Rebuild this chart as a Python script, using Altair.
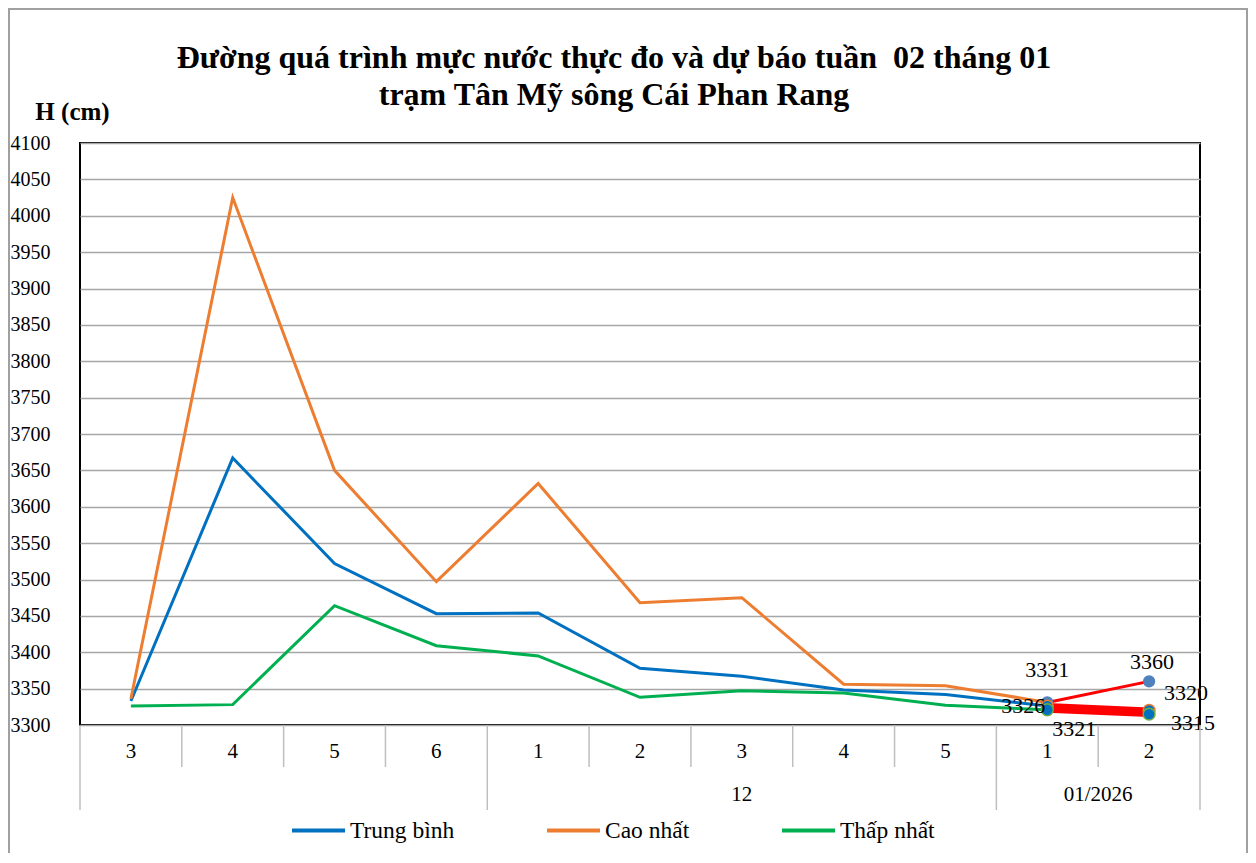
import altair as alt
import pandas as pd

# ---------------- data ----------------
weeks = ["3", "4", "5", "6", "1", "2", "3", "4", "5", "1", "2"]
months = ["", "12", "01/2026"]
month_start = [0, 4, 9]
month_end = [4, 9, 11]

series_names = ["Trung bình", "Cao nhất", "Thấp nhất"]
series_colors = ["#0070C0", "#ED7D31", "#00B050"]
mean_vals = [3333, 3667, 3522, 3453, 3454, 3378, 3367, 3348, 3342, 3326]
max_vals = [3336, 4025, 3650, 3497, 3632, 3468, 3475, 3356, 3354, 3331]
min_vals = [3326, 3328, 3464, 3409, 3395, 3338, 3347, 3344, 3327, 3321]

# forecast (from week 1 to week 2 of 01/2026)
fc_max = [3331, 3360]
fc_mean = [3326, 3320]
fc_min = [3321, 3315]

title_lines = ["Đường quá trình mực nước thực đo và dự báo tuần \u00a002 tháng 01",
               "trạm Tân Mỹ sông Cái Phan Rang"]

FONT = "Liberation Serif"
W, H = 1120, 582

# ---------------- tables ----------------
rows = []
for name, vals in zip(series_names, [mean_vals, max_vals, min_vals]):
    for i, v in enumerate(vals):
        rows.append({"x": i + 0.5, "v": v, "s": name})
df_obs = pd.DataFrame(rows)

fc_rows = []
for name, vals in zip(["max", "mean", "min"], [fc_max, fc_mean, fc_min]):
    for j, v in enumerate(vals):
        fc_rows.append({"x": 9 + j + 0.5, "v": v, "s": name})
df_fc = pd.DataFrame(fc_rows)

df_weeks = pd.DataFrame({"x": [i + 0.5 for i in range(len(weeks))], "t": weeks})
df_months = pd.DataFrame({"x": [(a + b) / 2 for a, b in zip(month_start, month_end)], "t": months})
group_bounds = sorted(set(month_start + month_end))
df_short = pd.DataFrame({"b": [b for b in range(1, len(weeks)) if b not in group_bounds]})
df_long = pd.DataFrame({"b": group_bounds})

xscale = alt.Scale(domain=[0, len(weeks)], nice=False, zero=False)
yscale = alt.Scale(domain=[3300, 4100], nice=False, zero=False)
yaxis = alt.Axis(
    values=list(range(3300, 4101, 50)), format="d",
    labelFontSize=20, labelFont=FONT, labelColor="black", labelPadding=30,
    labelFlush=False, ticks=False, domain=False,
    grid=True, gridColor="#a6a6a6", gridWidth=1.3,
    title="H (cm)", titleAngle=0, titleFont=FONT, titleFontSize=25,
    titleFontWeight="bold", titleColor="black", titleX=-8, titleY=-24,
    titleAlign="center", titleBaseline="alphabetic",
)
X = alt.X("x:Q", scale=xscale, axis=None)
Y = alt.Y("v:Q", scale=yscale, axis=yaxis)

# outer frame of the whole picture
frame = alt.Chart(pd.DataFrame({"a": [0]})).mark_rect(
    fill=None, stroke="#a0a0a0", strokeWidth=2, clip=False
).encode(x=alt.value(-71), x2=alt.value(1167), y=alt.value(-134), y2=alt.value(720))

obs = alt.Chart(df_obs).mark_line(strokeWidth=3).encode(
    x=X, y=Y,
    color=alt.Color(
        "s:N",
        scale=alt.Scale(domain=series_names, range=series_colors),
        sort=series_names,
        legend=alt.Legend(
            orient="none", legendX=210, legendY=659, direction="horizontal",
            title=None, symbolType="stroke", symbolSize=2809, symbolStrokeWidth=4,
            labelFontSize=23.5, labelFont=FONT, labelColor="black",
            columnPadding=84, labelOffset=3, gridAlign="each",
        ),
    ),
)

fc_thin = alt.Chart(df_fc[df_fc.s == "max"]).mark_line(color="#FF0000", strokeWidth=3).encode(x=X, y=Y)
fc_thick = alt.Chart(df_fc[df_fc.s != "max"]).mark_line(color="#FF0000", strokeWidth=6).encode(
    x=X, y=Y, detail="s:N"
)

pt_max = alt.Chart(df_fc[df_fc.s == "max"]).mark_point(
    filled=True, shape="circle", size=150, color="#4F81BD", opacity=1
).encode(x=X, y=Y)
pt_mean = alt.Chart(df_fc[df_fc.s == "mean"]).mark_point(
    shape="circle", size=140, fill="#0070C0", stroke="#ED7D31", strokeWidth=1.5, opacity=1, fillOpacity=1
).encode(x=X, y=Y)
pt_min = alt.Chart(df_fc[df_fc.s == "min"]).mark_point(
    shape="circle", size=140, fill="#0070C0", stroke="#70AD47", strokeWidth=1.5, opacity=1, fillOpacity=1
).encode(x=X, y=Y)

# data labels of forecast points (style offsets only)
label_style = [
    ("max", 0, "center", 0, -32),
    ("mean", 0, "right", -2, 0),
    ("min", 0, "left", 5, 19),
    ("max", 1, "center", 3, -19),
    ("mean", 1, "left", 15, -17),
    ("min", 1, "left", 22, 9),
]
labels = []
for s, j, al, dx, dy in label_style:
    sub = df_fc[df_fc.s == s].iloc[[j]].copy()
    sub["t"] = sub["v"].astype(int).astype(str)
    labels.append(
        alt.Chart(sub).mark_text(
            font=FONT, fontSize=22, color="black", align=al, baseline="middle", dx=dx, dy=dy
        ).encode(x=X, y=Y, text="t:N")
    )

short_ticks = alt.Chart(df_short).mark_rule(color="#bfbfbf", strokeWidth=1.5).encode(
    x=alt.X("b:Q", scale=xscale, axis=None), y=alt.value(H), y2=alt.value(H + 42)
)
long_ticks = alt.Chart(df_long).mark_rule(color="#bfbfbf", strokeWidth=1.5).encode(
    x=alt.X("b:Q", scale=xscale, axis=None), y=alt.value(H), y2=alt.value(H + 85)
)
week_text = alt.Chart(df_weeks).mark_text(
    font=FONT, fontSize=21, color="black", baseline="middle"
).encode(x=X, y=alt.value(H + 27), text="t:N")
month_text = alt.Chart(df_months).mark_text(
    font=FONT, fontSize=21, color="black", baseline="middle"
).encode(x=X, y=alt.value(H + 70), text="t:N")

chart = alt.layer(
    frame, obs, fc_thin, fc_thick, pt_max, pt_mean, pt_min, *labels,
    short_ticks, long_ticks, week_text, month_text,
).properties(
    width=W, height=H,
    title=alt.Title(
        text=title_lines,
        font=FONT, fontSize=32, fontWeight="bold", color="black",
        anchor="middle", dx=-26, offset=-104, lineHeight=37,
    ),
    autosize=alt.AutoSizeParams(type="none"),
    padding={"left": 72, "top": 135, "right": 48, "bottom": 128},
).configure(background="white", font=FONT).configure_view(
    stroke="black", strokeWidth=2
).configure_axis(labelFont=FONT, titleFont=FONT)

chart.save("out.html", embed_options={"renderer": "svg", "actions": False})
